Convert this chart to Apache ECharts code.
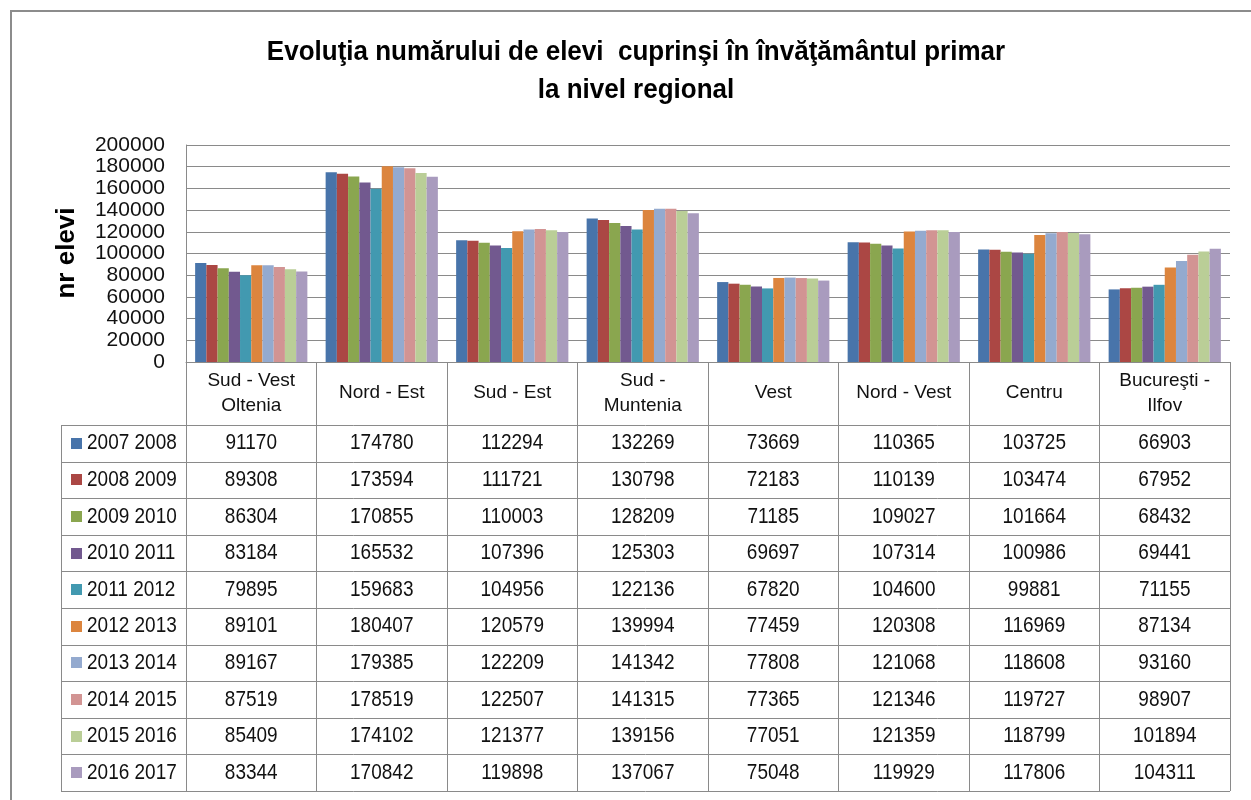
<!DOCTYPE html>
<html>
<head>
<meta charset="utf-8">
<script src="https://cdn.jsdelivr.net/npm/echarts@6/dist/echarts.min.js"></script>
<style>
html, body { margin: 0; padding: 0; background: #fff; }
#main { width: 1251px; height: 800px; }
</style>
</head>
<body>
<div id="main"></div>
<script>
// regiuni (categorii)
var regiuni = ['Sud - Vest\nOltenia', 'Nord - Est', 'Sud - Est', 'Sud -\nMuntenia', 'Vest', 'Nord - Vest', 'Centru', 'Bucureşti -\nIlfov'];
var aniScolari = ['2007 2008', '2008 2009', '2009 2010', '2010 2011', '2011 2012', '2012 2013', '2013 2014', '2014 2015', '2015 2016', '2016 2017'];

// numar elevi pe an scolar
var an2007 = [91170, 174780, 112294, 132269, 73669, 110365, 103725, 66903];
var an2008 = [89308, 173594, 111721, 130798, 72183, 110139, 103474, 67952];
var an2009 = [86304, 170855, 110003, 128209, 71185, 109027, 101664, 68432];
var an2010 = [83184, 165532, 107396, 125303, 69697, 107314, 100986, 69441];
var an2011 = [79895, 159683, 104956, 122136, 67820, 104600, 99881, 71155];
var an2012 = [89101, 180407, 120579, 139994, 77459, 120308, 116969, 87134];
var an2013 = [89167, 179385, 122209, 141342, 77808, 121068, 118608, 93160];
var an2014 = [87519, 178519, 122507, 141315, 77365, 121346, 119727, 98907];
var an2015 = [85409, 174102, 121377, 139156, 77051, 121359, 118799, 101894];
var an2016 = [83344, 170842, 119898, 137067, 75048, 119929, 117806, 104311];

var yTicks = [0, 20000, 40000, 60000, 80000, 100000, 120000, 140000, 160000, 180000, 200000];

var culori = ['#4874AA', '#AB4744', '#8AA64F', '#72598F', '#4299B0', '#DC853E', '#94AACF', '#D29493', '#BACE97', '#A99BBE'];

var valori = [an2007, an2008, an2009, an2010, an2011, an2012, an2013, an2014, an2015, an2016];

var FONT = 'Liberation Sans, Arial, sans-serif';
var LINIE = '#8a8a8a';
var TABEL_SUS = 425, RAND = 36.6, TABEL_STANGA = 61;

var dom = document.getElementById('main');
var myChart = echarts.init(dom);

var series = [];
for (var i = 0; i < aniScolari.length; i++) {
	series.push({
		name: aniScolari[i],
		type: 'bar',
		barGap: '0%',
		barCategoryGap: '14%',
		itemStyle: { color: culori[i] },
		data: valori[i]
	});
}

var option = {
	animation: false,
	grid: { left: 186, right: 21, top: 145, bottom: 438 },
	xAxis: {
		type: 'category',
		data: regiuni,
		axisLine: { show: true, lineStyle: { color: LINIE, width: 1 } },
		axisTick: { show: true, length: 429, lineStyle: { color: LINIE, width: 1 } },
		axisLabel: {
			interval: 0,
			margin: 31,
			verticalAlign: 'middle',
			fontSize: 19,
			lineHeight: 25,
			fontFamily: FONT,
			color: '#111'
		}
	},
	yAxis: {
		type: 'value',
		min: yTicks[0],
		max: yTicks[yTicks.length - 1],
		interval: 20000,
		axisLine: { show: true, lineStyle: { color: LINIE, width: 1 } },
		axisTick: { show: false },
		splitLine: { lineStyle: { color: LINIE, width: 1 } },
		axisLabel: {
			margin: 21, fontSize: 21, fontFamily: FONT, color: '#111',
			formatter: function (v) { return String(v); }
		}
	},
	series: series
};
myChart.setOption(option, true);

// tabel de date + titlu
var g = [];
g.push({ type: 'rect', shape: { x: 11, y: 11, width: 1300, height: 900 }, style: { fill: 'none', stroke: '#8c8c8c', lineWidth: 2 }, silent: true });
g.push({ type: 'text', x: 636, y: 52, scaleY: 1.08, style: { text: 'Evoluţia numărului de elevi  cuprinşi în învăţământul primar', align: 'center', verticalAlign: 'middle', fontSize: 26, fontWeight: 'bold', fontFamily: FONT, fill: '#000' } });
g.push({ type: 'text', x: 636, y: 90, scaleY: 1.08, style: { text: 'la nivel regional', align: 'center', verticalAlign: 'middle', fontSize: 26, fontWeight: 'bold', fontFamily: FONT, fill: '#000' } });
g.push({ type: 'text', x: 67, y: 253, rotation: Math.PI / 2, style: { text: 'nr elevi', align: 'center', verticalAlign: 'middle', fontSize: 26, fontWeight: 'bold', fontFamily: FONT, fill: '#000' } });

var x0 = myChart.convertToPixel({ xAxisIndex: 0 }, 0);
var x1 = myChart.convertToPixel({ xAxisIndex: 0 }, 1);
var latCol = x1 - x0;
var dreapta = x0 + latCol * (regiuni.length - 0.5);
var jos = TABEL_SUS + RAND * aniScolari.length;

for (var r = 0; r <= aniScolari.length; r++) {
	var yy = Math.round(TABEL_SUS + RAND * r) + 0.5;
	g.push({ type: 'line', shape: { x1: TABEL_STANGA, y1: yy, x2: dreapta, y2: yy }, style: { stroke: LINIE, lineWidth: 1 } });
}
g.push({ type: 'line', shape: { x1: TABEL_STANGA + 0.5, y1: TABEL_SUS, x2: TABEL_STANGA + 0.5, y2: Math.round(jos) + 0.5 }, style: { stroke: LINIE, lineWidth: 1 } });

for (var r = 0; r < aniScolari.length; r++) {
	var cy = TABEL_SUS + RAND * (r + 0.5);
	g.push({ type: 'rect', shape: { x: 71, y: Math.round(cy - 5.5), width: 11, height: 11 }, style: { fill: culori[r] } });
	g.push({ type: 'text', x: 87, y: cy, scaleY: 1.15, style: { text: aniScolari[r], align: 'left', verticalAlign: 'middle', fontSize: 19, fontFamily: FONT, fill: '#111' } });
	for (var c = 0; c < regiuni.length; c++) {
		var cx = myChart.convertToPixel({ xAxisIndex: 0 }, c);
		g.push({ type: 'text', x: cx, y: cy, scaleY: 1.15, style: { text: String(valori[r][c]), align: 'center', verticalAlign: 'middle', fontSize: 19, fontFamily: FONT, fill: '#111' } });
	}
}
myChart.setOption({ graphic: g });
</script>
</body>
</html>
